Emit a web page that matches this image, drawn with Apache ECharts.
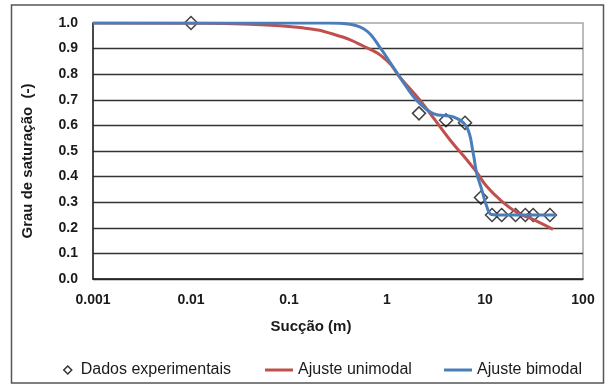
<!DOCTYPE html>
<html>
<head>
<meta charset="utf-8">
<script src="https://cdn.jsdelivr.net/npm/echarts@6/dist/echarts.min.js"></script>
<style>
html,body{margin:0;padding:0;background:#fff;}
#chart{width:606px;height:385px;}
</style>
</head>
<body>
<div id="chart"></div>
<script>
// Experimental data
var expSuction = [0.01, 2.12, 4.0, 6.25, 9.1, 11.8, 14.8, 20.5, 25.8, 31.0, 46.0];
var expSaturation = [1.0, 0.647, 0.62, 0.61, 0.318, 0.25, 0.25, 0.25, 0.25, 0.25, 0.25];

// Unimodal fit
var uniSuction = [0.001, 0.01, 0.04, 0.13, 0.28, 0.625, 1.0, 1.36, 2.17, 4.4, 6.55, 8.28, 10.5, 14.2, 21.2, 30.9, 49.4];
var uniSaturation = [1.0, 0.999, 0.995, 0.982, 0.957, 0.903, 0.853, 0.787, 0.698, 0.543, 0.465, 0.415, 0.36, 0.31, 0.26, 0.233, 0.194];

// Bimodal fit
var biSuction = [0.001, 0.1, 0.25, 0.42, 0.62, 0.85, 1.16, 1.585, 2.01, 2.97, 4.75, 6.5, 7.59, 8.22, 9.25, 10.4, 11.7, 15, 25, 53];
var biSaturation = [1.0, 1.0, 1.0, 0.995, 0.969, 0.904, 0.827, 0.749, 0.698, 0.646, 0.633, 0.594, 0.49, 0.413, 0.35, 0.284, 0.252, 0.25, 0.25, 0.25];

var xTicks = ['0.001', '0.01', '0.1', '1', '10', '100'];

function pairs(xs, ys) { return xs.map(function (x, i) { return [x, ys[i]]; }); }

var chart = echarts.init(document.getElementById('chart'));
var ff = '"Liberation Sans", Arial, sans-serif';
chart.setOption({
  animation: false,
  grid: { left: 93, right: 23, top: 23, bottom: 106, show: true, borderColor: '#a6a6a6', borderWidth: 1.5, backgroundColor: '#fff' },
  xAxis: {
    type: 'log', logBase: 10, min: 0.001, max: 100,
    axisLine: { show: true, onZero: false, lineStyle: { color: '#222', width: 1.5 } },
    axisTick: { show: false },
    splitLine: { show: false },
    minorSplitLine: { show: false },
    axisLabel: {
      margin: 14, color: '#1a1a1a', fontFamily: ff, fontWeight: 'bold', fontSize: 14,
      formatter: function (v) { return String(parseFloat(Number(v).toPrecision(6))); }
    }
  },
  yAxis: {
    type: 'value', min: 0, max: 1, interval: 0.1,
    axisLine: { show: true, lineStyle: { color: '#222', width: 1.5 } },
    axisTick: { show: false },
    splitLine: { show: true, showMaxLine: false, lineStyle: { color: '#333', width: 1.4 } },
    axisLabel: {
      margin: 15, color: '#1a1a1a', fontFamily: ff, fontWeight: 'bold', fontSize: 14,
      formatter: function (v) { return Number(v).toFixed(1); }
    }
  },
  graphic: [
    { type: 'rect', shape: { x: 11.5, y: 5, width: 592, height: 378 }, style: { fill: 'none', stroke: '#555', lineWidth: 1.5 }, silent: true, z: -1 },
    { type: 'text', x: 311, y: 327, style: { text: 'Sucção (m)', textAlign: 'center', textVerticalAlign: 'middle', fill: '#1a1a1a', font: 'bold 15px ' + ff } },
    { type: 'text', x: 28, y: 161, rotation: Math.PI / 2, style: { text: 'Grau de saturação  (-)', textAlign: 'center', textVerticalAlign: 'middle', fill: '#1a1a1a', font: 'bold 15px ' + ff } }
  ],
  legend: [
    { left: 58, top: 357, itemWidth: 8, itemHeight: 8, textStyle: { fontFamily: ff, fontSize: 16, color: '#1a1a1a', padding: [0, 0, 0, 4] },
      data: [{ name: 'Dados experimentais', icon: 'diamond', itemStyle: { color: 'rgba(0,0,0,0)', borderColor: '#000', borderWidth: 1.5 } }] },
    { left: 260, top: 357, itemWidth: 28, itemHeight: 3, textStyle: { fontFamily: ff, fontSize: 16, color: '#1a1a1a' },
      data: [{ name: 'Ajuste unimodal', icon: 'rect' }] },
    { left: 439, top: 357, itemWidth: 28, itemHeight: 3, textStyle: { fontFamily: ff, fontSize: 16, color: '#1a1a1a' },
      data: [{ name: 'Ajuste bimodal', icon: 'rect' }] }
  ],
  series: [
    { name: 'Dados experimentais', type: 'scatter', symbol: 'diamond', symbolSize: 13, z: 2,
      itemStyle: { color: 'rgba(0,0,0,0)', borderColor: '#111', borderWidth: 1.5 },
      data: pairs(expSuction, expSaturation) },
    { name: 'Ajuste unimodal', type: 'line', smooth: 0.5, showSymbol: false, z: 3,
      lineStyle: { color: '#c0504d', width: 3 }, itemStyle: { color: '#c0504d' },
      data: pairs(uniSuction, uniSaturation) },
    { name: 'Ajuste bimodal', type: 'line', smooth: 0.4, showSymbol: false, z: 4,
      lineStyle: { color: '#4a7ebb', width: 3 }, itemStyle: { color: '#4a7ebb' },
      data: pairs(biSuction, biSaturation) }
  ]
});
</script>
</body>
</html>
